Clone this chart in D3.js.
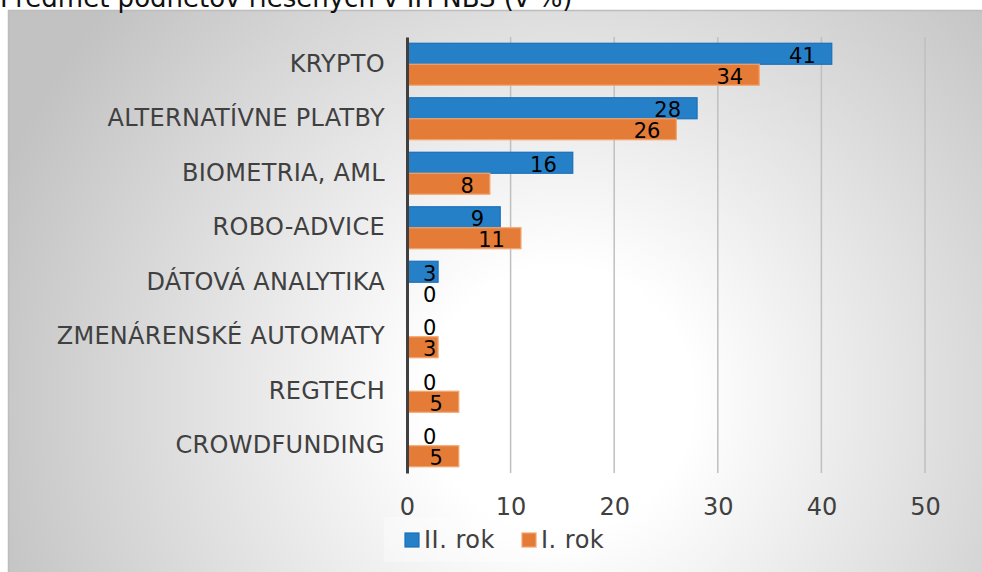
<!DOCTYPE html>
<html>
<head>
<meta charset="utf-8">
<script src="https://cdn.jsdelivr.net/npm/d3@7"></script>
<style>
  body { margin: 0; background: #fff; }
  svg { display: block; font-family: "DejaVu Sans", Verdana, sans-serif; }
</style>
</head>
<body>
<svg id="drawing_region"></svg>
<script>
// categories from top to bottom
const categories = ["KRYPTO", "ALTERNATÍVNE PLATBY", "BIOMETRIA, AML", "ROBO-ADVICE",
    "DÁTOVÁ ANALYTIKA", "ZMENÁRENSKÉ AUTOMATY", "REGTECH", "CROWDFUNDING"];
const series = ["II. rok", "I. rok"];
const values2 = [41, 28, 16, 9, 3, 0, 0, 0];   // II. rok
const values1 = [34, 26, 8, 11, 0, 3, 5, 5];   // I. rok
const xTicks = [0, 10, 20, 30, 40, 50];
const title = "Predmet podnetov riešených v IH NBS (v %)";

const colors = { "II. rok": "#2680c8", "I. rok": "#e47c38" };
const strokes = { "II. rok": "#1a6fba", "I. rok": "#f2a66f" };

const data = categories.map((c, i) => ({ cat: c, "II. rok": values2[i], "I. rok": values1[i] }));

const W = 982, H = 572;
const svg = d3.select("#drawing_region").attr("width", W).attr("height", H);

// background gradient
const defs = svg.append("defs");
const grad = defs.append("radialGradient")
    .attr("id", "bg")
    .attr("gradientUnits", "userSpaceOnUse")
    .attr("cx", 560).attr("cy", 400).attr("r", 600);
grad.append("stop").attr("offset", "0").attr("stop-color", "#ffffff");
grad.append("stop").attr("offset", "0.22").attr("stop-color", "#ffffff");
grad.append("stop").attr("offset", "1").attr("stop-color", "#c2c2c2");

svg.append("rect")
    .attr("x", 8.5).attr("y", 10.5)
    .attr("width", 980).attr("height", 570)
    .attr("fill", "url(#bg)")
    .attr("stroke", "#bdbdbd")
    .attr("stroke-width", 1.5);

svg.append("text")
    .attr("x", 0).attr("y", 7)
    .attr("font-size", "26px")
    .attr("fill", "#111")
    .text(title);

const plot = { top: 37, bottom: 473 };

const xscale = d3.scaleLinear().domain([0, 50]).range([407, 925]);
const yscale = d3.scaleBand()
    .domain(categories)
    .range([plot.top, plot.bottom])
    .paddingInner(0.23)
    .paddingOuter(0.115);
const sub = d3.scaleBand().domain(series).range([0, yscale.bandwidth()]);

// gridlines
svg.append("g")
    .selectAll("line")
    .data(xTicks.filter(t => t > 0))
    .join("line")
    .attr("x1", d => xscale(d)).attr("x2", d => xscale(d))
    .attr("y1", plot.top).attr("y2", plot.bottom)
    .attr("stroke", "#bfbfbf")
    .attr("stroke-width", 1.5);

// x axis tick labels
const xaxis = d3.axisBottom(xscale).tickValues(xTicks).tickSize(0);
const xg = svg.append("g")
    .attr("transform", `translate(0, ${plot.bottom})`)
    .call(xaxis);
xg.select(".domain").remove();
xg.selectAll("text")
    .attr("y", 42).attr("dy", null)
    .attr("font-size", "24px")
    .attr("font-family", "DejaVu Sans, Verdana, sans-serif")
    .attr("fill", "#404040");

// bars
const groups = svg.append("g")
    .selectAll("g")
    .data(data)
    .join("g")
    .attr("transform", d => `translate(0, ${yscale(d.cat)})`);

groups.selectAll("rect")
    .data(d => series.map(s => ({ s: s, v: d[s] })))
    .join("rect")
    .attr("x", xscale(0))
    .attr("y", d => sub(d.s))
    .attr("width", d => xscale(d.v) - xscale(0))
    .attr("height", sub.bandwidth())
    .attr("fill", d => colors[d.s])
    .attr("stroke", d => d.v > 0 ? strokes[d.s] : "none")
    .attr("stroke-width", 1.2);

groups.selectAll("text")
    .data(d => series.map(s => ({ s: s, v: d[s] })))
    .join("text")
    .attr("y", d => sub(d.s) + sub.bandwidth() / 2 + 9)
    .attr("font-size", "21px")
    .attr("fill", "#000")
    .attr("text-anchor", "end")
    .text(d => d.v)
    .each(function (d) {
        const w = this.getComputedTextLength();
        d3.select(this).attr("x", Math.max(xscale(d.v) - 16, xscale(0) + 16 + w));
    });

// y axis
const yaxis = d3.axisLeft(yscale).tickSize(0).tickSizeOuter(0).tickPadding(22);
const yg = svg.append("g")
    .attr("transform", `translate(${xscale(0)}, 0)`)
    .call(yaxis);
yg.select(".domain")
    .attr("stroke", "#404040")
    .attr("stroke-width", 3);
yg.selectAll("text")
    .attr("font-size", "24px")
    .attr("letter-spacing", "0.3px")
    .attr("font-family", "DejaVu Sans, Verdana, sans-serif")
    .attr("fill", "#404040");

// legend
const legend = svg.append("g");
legend.append("rect")
    .attr("x", 384).attr("y", 517)
    .attr("width", 212).attr("height", 45)
    .attr("fill", "#ffffff").attr("opacity", 0.35);
const legendX = [405, 522];
series.forEach((s, i) => {
    legend.append("rect")
        .attr("x", legendX[i]).attr("y", 533)
        .attr("width", 14).attr("height", 14)
        .attr("fill", colors[s])
        .attr("stroke", strokes[s])
        .attr("stroke-width", 1.2);
    legend.append("text")
        .attr("x", legendX[i] + 19).attr("y", 548)
        .attr("font-size", "24px")
        .attr("letter-spacing", "0.5px")
        .attr("fill", "#404040")
        .text(s);
});
</script>
</body>
</html>
